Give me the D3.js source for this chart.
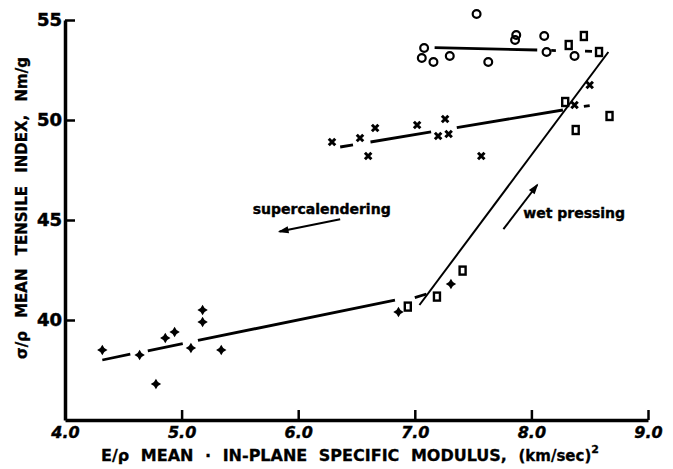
<!DOCTYPE html>
<html>
<head>
<meta charset="utf-8">
<script src="https://cdn.jsdelivr.net/npm/d3@7"></script>
<style>
  body { margin: 0; background: #fff; }
  svg { display: block; font-family: "DejaVu Sans", sans-serif; font-weight: bold; }
</style>
</head>
<body>
<div id="grafico"></div>
<script>
// valores (x = E/rho, y = sigma/rho)
const xTicks = [4, 5, 6, 7, 8, 9];
const yTicks = [40, 45, 50, 55];

const pontosCirculo = [[7.08, 53.6], [7.06, 53.1], [7.16, 52.9], [7.30, 53.2], [7.53, 55.3],
  [7.63, 52.9], [7.87, 54.25], [7.86, 54.0], [8.11, 54.2], [8.13, 53.4], [8.37, 53.2]];
const pontosQuadrado = [[6.94, 40.67], [7.19, 41.17], [7.41, 42.47], [8.29, 50.9], [8.38, 49.5],
  [8.67, 50.2], [8.32, 53.75], [8.45, 54.2], [8.58, 53.4]];
const pontosX = [[6.29, 48.9], [6.53, 49.1], [6.66, 49.6], [6.60, 48.2], [7.02, 49.75], [7.26, 50.05],
  [7.20, 49.2], [7.29, 49.3], [7.57, 48.2], [8.37, 50.75], [8.50, 51.75]];
const pontosMais = [[4.32, 38.5], [4.64, 38.25], [4.78, 36.8], [4.86, 39.1], [4.94, 39.4], [5.08, 38.6],
  [5.18, 40.5], [5.18, 39.9], [5.34, 38.5], [6.86, 40.4], [7.31, 41.8]];

// linhas ajustadas (null = interrupção perto dos pontos)
const linhaBaixa = [[4.32, 38.0], [4.56, 38.29], null, [4.71, 38.46], [5.01, 38.82], null,
  [5.14, 38.98], [6.83, 40.99], null, [7.00, 41.12], [7.10, 41.3]];
const linhaIngreme = [[7.04, 40.75], [8.66, 53.4]];
const linhaTopo = [[7.17, 53.62], [8.05, 53.5], null, [8.17, 53.48], [8.21, 53.47], null,
  [8.46, 53.44], [8.52, 53.43]];
const linhaMeio = [[6.36, 48.65], [6.47, 48.76], null, [6.62, 48.9], [7.14, 49.41], null,
  [7.36, 49.62], [8.27, 50.5], null, [8.45, 50.68], [8.50, 50.72]];

const setaSuper = [[6.36, 45.04], [5.84, 44.42]];
const setaUmida = [[7.76, 44.54], [8.05, 46.75]];
const anotacoes = [
  { texto: 'supercalendering', x: 5.61, y: 45.3 },
  { texto: 'wet pressing', x: 7.93, y: 45.1 }
];

function criarGrafico() {
  const largura = 673;
  const altura = 469;

  const svg = d3.select('#grafico')
    .append('svg')
    .attr('width', largura)
    .attr('height', altura);

  svg.append('rect').attr('width', largura).attr('height', altura).attr('fill', '#fff');

  const x = d3.scaleLinear().domain([4, 9]).range([65, 648]);
  const y = d3.scaleLinear().domain([35, 55]).range([420, 20]);

  // ponta de seta
  svg.append('defs').append('marker')
    .attr('id', 'ponta')
    .attr('viewBox', '0 0 12 10')
    .attr('refX', 10).attr('refY', 5)
    .attr('markerWidth', 6).attr('markerHeight', 4.5)
    .attr('orient', 'auto')
    .append('path')
    .attr('d', 'M0,1 L12,5 L0,9 Z')
    .attr('fill', '#000');

  // eixo X
  const eixoX = svg.append('g')
    .attr('transform', `translate(0,${y(35)})`)
    .call(d3.axisBottom(x).tickValues(xTicks).tickSize(-10).tickSizeOuter(0).tickPadding(7)
      .tickFormat(d3.format('.1f')));
  eixoX.select('.domain').attr('stroke-width', 3.5);
  eixoX.selectAll('.tick line').attr('stroke-width', 2.5);
  eixoX.selectAll('text')
    .attr('font-size', 16).attr('font-style', 'italic')
    .attr('stroke', '#000').attr('stroke-width', 0.4)
    .attr('font-family', '"DejaVu Sans", sans-serif').attr('font-weight', 'bold');

  // eixo Y
  const eixoY = svg.append('g')
    .attr('transform', `translate(${x(4)},0)`)
    .call(d3.axisLeft(y).tickValues(yTicks).tickSize(-10).tickSizeOuter(0).tickPadding(3));
  eixoY.select('.domain').attr('stroke-width', 3.5);
  eixoY.selectAll('.tick line').attr('stroke-width', 2.5);
  eixoY.selectAll('text')
    .attr('font-size', 18)
    .attr('stroke', '#000').attr('stroke-width', 0.5)
    .attr('font-family', '"DejaVu Sans", sans-serif').attr('font-weight', 'bold');

  // títulos dos eixos
  const tituloX = svg.append('text')
    .attr('x', 101).attr('y', 461)
    .attr('font-size', 16).attr('word-spacing', 6)
    .attr('stroke', '#000').attr('stroke-width', 0.3);
  tituloX.append('tspan').text('E/ρ MEAN · IN-PLANE SPECIFIC MODULUS, ');
  tituloX.append('tspan').attr('font-size', 15).text('(km/sec)');
  tituloX.append('tspan').attr('font-size', 11).attr('dy', -8).text('2');

  svg.append('text')
    .attr('transform', 'translate(22,208) rotate(-90)')
    .attr('text-anchor', 'middle')
    .attr('dominant-baseline', 'central')
    .attr('font-size', 15).attr('word-spacing', 8)
    .attr('stroke', '#000').attr('stroke-width', 0.3)
    .text('σ/ρ MEAN TENSILE INDEX,  Nm/g');

  // linhas
  const linha = d3.line().defined((d) => d).x((d) => x(d[0])).y((d) => y(d[1]));
  const linhas = [
    { dados: linhaBaixa, espessura: 2.8 },
    { dados: linhaIngreme, espessura: 2 },
    { dados: linhaTopo, espessura: 2.8 },
    { dados: linhaMeio, espessura: 2.8 }
  ];
  svg.selectAll('.linha')
    .data(linhas)
    .enter()
    .append('path')
    .attr('class', 'linha')
    .attr('d', (d) => linha(d.dados))
    .attr('fill', 'none')
    .attr('stroke', '#000')
    .attr('stroke-width', (d) => d.espessura);

  // setas e anotações
  svg.selectAll('.seta')
    .data([setaSuper, setaUmida])
    .enter()
    .append('path')
    .attr('class', 'seta')
    .attr('d', linha)
    .attr('stroke', '#000')
    .attr('stroke-width', 2)
    .attr('marker-end', 'url(#ponta)');

  svg.selectAll('.anotacao')
    .data(anotacoes)
    .enter()
    .append('text')
    .attr('class', 'anotacao')
    .attr('x', (d) => x(d.x))
    .attr('y', (d) => y(d.y))
    .attr('font-size', 14)
    .attr('stroke', '#000').attr('stroke-width', 0.4)
    .text((d) => d.texto);

  // símbolos
  const estrela4 = {
    draw(ctx, size) {
      const r = Math.sqrt(size) * 0.75;
      const w = r * 0.38;
      ctx.moveTo(0, -r); ctx.lineTo(w, -w); ctx.lineTo(r, 0); ctx.lineTo(w, w);
      ctx.lineTo(0, r); ctx.lineTo(-w, w); ctx.lineTo(-r, 0); ctx.lineTo(-w, -w);
      ctx.closePath();
    }
  };
  const simboloX = {
    draw(ctx, size) {
      const r = Math.sqrt(size) / 2;
      ctx.moveTo(-r, -r); ctx.lineTo(r, r);
      ctx.moveTo(r, -r); ctx.lineTo(-r, r);
    }
  };

  svg.selectAll('.circulo')
    .data(pontosCirculo)
    .enter()
    .append('circle')
    .attr('class', 'circulo')
    .attr('cx', (d) => x(d[0]))
    .attr('cy', (d) => y(d[1]))
    .attr('r', 3.9)
    .attr('fill', 'none')
    .attr('stroke', '#000')
    .attr('stroke-width', 2.2);

  svg.selectAll('.quadrado')
    .data(pontosQuadrado)
    .enter()
    .append('rect')
    .attr('class', 'quadrado')
    .attr('x', (d) => x(d[0]) - 3)
    .attr('y', (d) => y(d[1]) - 4)
    .attr('width', 6)
    .attr('height', 8)
    .attr('fill', '#fff')
    .attr('stroke', '#000')
    .attr('stroke-width', 2.4);

  svg.selectAll('.xis')
    .data(pontosX)
    .enter()
    .append('path')
    .attr('class', 'xis')
    .attr('transform', (d) => `translate(${x(d[0])},${y(d[1])})`)
    .attr('d', d3.symbol(simboloX, 42))
    .attr('stroke', '#000')
    .attr('stroke-width', 3);

  svg.selectAll('.mais')
    .data(pontosMais)
    .enter()
    .append('path')
    .attr('class', 'mais')
    .attr('transform', (d) => `translate(${x(d[0])},${y(d[1])})`)
    .attr('d', d3.symbol(estrela4, 48))
    .attr('fill', '#000');
}

criarGrafico();
</script>
</body>
</html>
